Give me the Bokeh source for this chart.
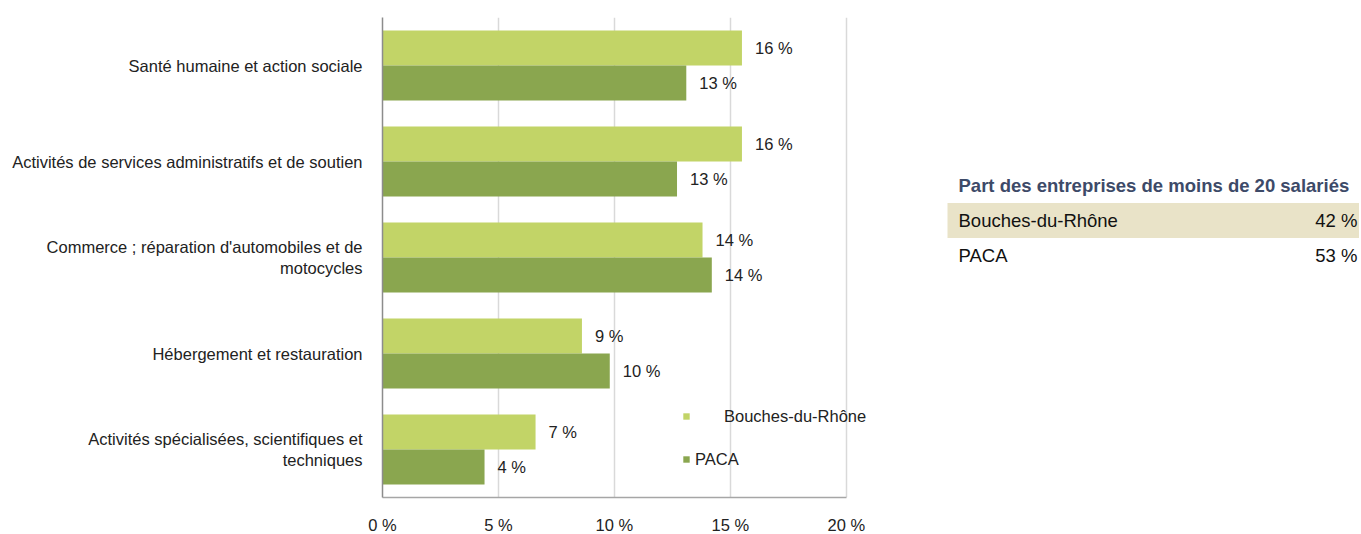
from bokeh.plotting import figure
from bokeh.models import (ColumnDataSource, FactorRange, Range1d, FixedTicker,
                          Legend, LegendItem)
from bokeh.transform import dodge
from bokeh.layouts import row
from bokeh.core.properties import value
from bokeh.embed import file_html
from bokeh.resources import INLINE

# ---------------- data ----------------
categories = [
    "Santé humaine et action sociale",
    "Activités de services administratifs et de soutien",
    "Commerce ; réparation d'automobiles et de\nmotocycles",
    "Hébergement et restauration",
    "Activités spécialisées, scientifiques et\ntechniques",
]
bouches_du_rhone = [15.5, 15.5, 13.8, 8.6, 6.6]
paca = [13.1, 12.7, 14.2, 9.8, 4.4]
x_ticks = [0, 5, 10, 15, 20]
x_tick_labels = ["0 %", "5 %", "10 %", "15 %", "20 %"]
series_names = ["Bouches-du-Rhône", "PACA"]

table_title = "Part des entreprises de moins de 20 salariés"
table_rows = ["Bouches-du-Rhône", "PACA"]
table_values = ["42 %", "53 %"]

# ---------------- style ----------------
FONT = "Liberation Sans"
FS = "16.5px"
TXT = "#222222"
C_BDR = "#c2d467"
C_PACA = "#8aa64f"

src = ColumnDataSource(dict(
    cat=categories,
    bdr=bouches_du_rhone,
    paca=paca,
    bdr_lbl=["%d %%" % round(v) for v in bouches_du_rhone],
    paca_lbl=["%d %%" % round(v) for v in paca],
))

p = figure(output_backend="svg", toolbar_location=None,
           y_range=FactorRange(factors=list(reversed(categories)), range_padding=0),
           x_range=Range1d(0, 21),
           min_border_left=382, min_border_top=17, min_border_bottom=36,
           min_border_right=39)
p.frame_width = 487
p.frame_height = 480
p.outline_line_color = None

bh = 0.365
off = 0.1825
r1 = p.hbar(y=dodge("cat", off, range=p.y_range), left=0, right="bdr", height=bh,
            color=C_BDR, line_color=None, source=src)
r2 = p.hbar(y=dodge("cat", -off, range=p.y_range), left=0, right="paca", height=bh,
            color=C_PACA, line_color=None, source=src)

for col, lbl, o in (("bdr", "bdr_lbl", off), ("paca", "paca_lbl", -off)):
    p.text(x=col, y=dodge("cat", o, range=p.y_range), text=lbl, source=src,
           x_offset=13, text_baseline="middle", text_align="left",
           text_font=value(FONT), text_font_size=FS, text_color=TXT)

# axes
p.xaxis.ticker = FixedTicker(ticks=x_ticks)
p.xaxis.bounds = (x_ticks[0], x_ticks[-1])
p.xaxis.major_label_overrides = {t: l for t, l in zip(x_ticks, x_tick_labels)}
p.xaxis.major_tick_line_color = None
p.xaxis.minor_tick_line_color = None
p.xaxis.axis_line_color = "#a6a6a6"
p.xaxis.axis_line_width = 1.5
p.xaxis.major_label_standoff = 12
p.xaxis.major_label_text_font = FONT
p.xaxis.major_label_text_font_size = FS
p.xaxis.major_label_text_color = TXT

p.yaxis.major_tick_line_color = None
p.yaxis.minor_tick_line_color = None
p.yaxis.axis_line_color = "#8c8c8c"
p.yaxis.axis_line_width = 1.5
p.yaxis.major_label_standoff = 14
p.yaxis.major_label_text_font = FONT
p.yaxis.major_label_text_font_size = FS
p.yaxis.major_label_text_color = TXT

p.xgrid.ticker = FixedTicker(ticks=x_ticks)
p.xgrid.grid_line_color = "#d9d9d9"
p.xgrid.grid_line_width = 1.5
p.ygrid.grid_line_color = None

# legends (two, to reproduce the uneven label offsets)
for r, name, loc, standoff in ((r1, series_names[0], (300, 71), 34),
                               (r2, series_names[1], (300, 28), 5)):
    lg = Legend(items=[LegendItem(label=name, renderers=[r])], location=loc,
                glyph_width=8, glyph_height=8, label_standoff=standoff,
                label_height=20, padding=0, margin=0, spacing=0,
                background_fill_alpha=0, border_line_color=None,
                label_text_font=FONT, label_text_font_size=FS,
                label_text_color=TXT)
    p.add_layout(lg, "center")

# ---------------- table ----------------
W2 = 451
H2 = 534
t = figure(output_backend="svg", toolbar_location=None,
           x_axis_location=None, y_axis_location=None,
           x_range=Range1d(0, W2), y_range=Range1d(10.457, -4.80),
           min_border=0)
t.frame_width = W2
t.frame_height = H2
t.grid.visible = False
t.outline_line_color = None

t.quad(left=[39], right=[W2], top=[0.5], bottom=[1.5], color="#e9e3c8",
       line_color=None)

t.text(x=[50], y=[0], text=[table_title], text_font=value(FONT),
       text_font_size="18.5px", text_font_style="bold", text_color="#3d4a68",
       text_baseline="middle")
ys = list(range(1, len(table_rows) + 1))
tsrc = ColumnDataSource(dict(y=ys, name=table_rows, val=table_values,
                             xl=[50] * len(ys), xr=[W2 - 2] * len(ys)))
t.text(x="xl", y="y", text="name", source=tsrc, text_font=value(FONT),
       text_font_size="18.5px", text_color="#111111", text_baseline="middle")
t.text(x="xr", y="y", text="val", source=tsrc, text_font=value(FONT),
       text_font_size="18.5px", text_color="#111111", text_baseline="middle",
       text_align="right")

layout = row(p, t)
open("out.html", "w").write(file_html(layout, INLINE))
